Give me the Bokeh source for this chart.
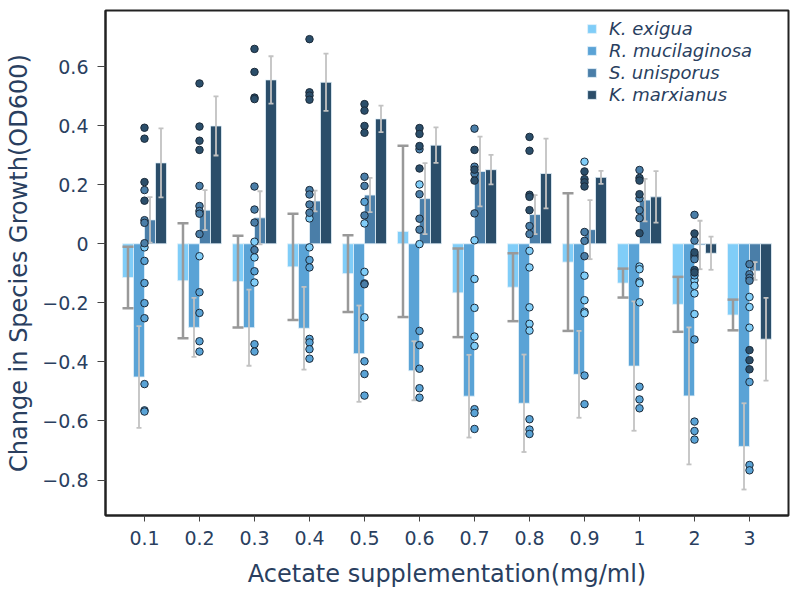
from bokeh.plotting import figure
from bokeh.models import (ColumnDataSource, FactorRange, FixedTicker,
                          CustomJSTickFormatter, Legend, LegendItem)
from bokeh.transform import dodge
from bokeh.embed import file_html
from bokeh.resources import INLINE

# ---------------- data ----------------
cats = ["0.1", "0.2", "0.3", "0.4", "0.5", "0.6", "0.7", "0.8", "0.9", "1", "2", "3"]
species = ["K. exigua", "R. mucilaginosa", "S. unisporus", "K. marxianus"]

ke_mean = [-0.114, -0.125, -0.128, -0.078, -0.101, 0.042, -0.166, -0.147, -0.062, -0.133, -0.205, -0.241]
ke_sd = [0.104, 0.195, 0.155, 0.180, 0.130, 0.290, 0.150, 0.115, 0.233, 0.049, 0.093, 0.052]
rm_mean = [-0.451, -0.283, -0.284, -0.286, -0.372, -0.430, -0.516, -0.540, -0.442, -0.414, -0.515, -0.686]
rm_sd = [0.172, 0.100, 0.129, 0.140, 0.163, 0.100, 0.140, 0.165, 0.147, 0.219, 0.232, 0.146]
su_mean = [0.081, 0.114, 0.088, 0.145, 0.165, 0.153, 0.245, 0.099, 0.048, 0.148, -0.004, -0.092]
su_sd = [0.077, 0.068, 0.090, 0.035, 0.058, 0.120, 0.118, 0.066, 0.100, 0.072, 0.082, 0.030]
km_mean = [0.274, 0.399, 0.555, 0.547, 0.423, 0.334, 0.251, 0.238, 0.225, 0.159, -0.032, -0.323]
km_sd = [0.117, 0.100, 0.080, 0.097, 0.045, 0.060, 0.050, 0.118, 0.022, 0.087, 0.056, 0.140]

# individual replicate points, one list per category
ke_pts = [[-0.012], [-0.042], [0.007, -0.046, -0.131], [0.086, -0.012], [0.069, -0.095, -0.249],
          [0.201, -0.001], [0.012, -0.119, -0.217, -0.314, -0.346], [-0.024, -0.080, -0.215, -0.271, -0.294],
          [0.278, -0.108, -0.191, -0.230, -0.235], [-0.077, -0.086, -0.128, -0.133, -0.198],
          [-0.123, -0.142, -0.168, -0.238], [-0.180, -0.214, -0.284]]
rm_pts = [[-0.058, -0.133, -0.201, -0.252, -0.475, -0.564, -0.568], [-0.164, -0.234, -0.330, -0.365],
          [-0.093, -0.340, -0.365], [-0.055, -0.080, -0.322, -0.334, -0.357, -0.389],
          [0.142, -0.398, -0.441, -0.514], [-0.295, -0.343, -0.423, -0.489, -0.521],
          [-0.560, -0.573, -0.627], [-0.594, -0.629, -0.644], [-0.446, -0.543],
          [-0.484, -0.527, -0.557], [-0.107, -0.324, -0.602, -0.634, -0.663], [-0.468, -0.749, -0.767]]
su_pts = [[0.182, 0.080, 0.071, 0.002], [0.196, 0.128, 0.111, 0.102, 0.033], [0.194, 0.116, 0.072, -0.021],
          [0.182, 0.167, 0.133, 0.105], [0.227, 0.196, 0.096, -0.134, -0.137], [0.320, 0.168, 0.085, 0.048],
          [0.390, 0.261, 0.238, 0.103], [0.060, 0.033], [0.040, 0.010, -0.042], [0.250, 0.154, 0.114, 0.087],
          [0.098, 0.011, -0.037, -0.044, -0.052], [-0.069, -0.103, -0.116, -0.125]]
km_pts = [[0.393, 0.356, 0.209, 0.146], [0.543, 0.397, 0.349, 0.318], [0.660, 0.582, 0.495, 0.490],
          [0.693, 0.513, 0.502, 0.488], [0.473, 0.451, 0.399, 0.376], [0.392, 0.372, 0.331, 0.255],
          [0.318, 0.251, 0.214], [0.362, 0.315, 0.166, 0.159, 0.114],
          [0.245, 0.219, 0.208, 0.194], [0.223, 0.214, 0.168, 0.036], [0.035, -0.029, -0.089, -0.097],
          [-0.360, -0.394, -0.425]]

yticks = [-0.8, -0.6, -0.4, -0.2, 0, 0.2, 0.4, 0.6]

# ---------------- styles ----------------
colors = ["#80cdf8", "#5aa3d6", "#4a7ea8", "#2b4e6a"]
offsets = [-0.3, -0.1, 0.1, 0.3]
err_colors = ["#999999", "#c2c2c2", "#c2c2c2", "#c2c2c2"]
err_widths = [2.5, 1.8, 1.8, 1.8]
cap_sizes = [11, 5, 5, 5]
text_color = "#2a3f5f"
font = "DejaVu Sans"

p = figure(width=792, height=595, output_backend="svg", toolbar_location=None,
           x_range=FactorRange(factors=cats, range_padding=0.209, range_padding_units="absolute"),
           y_range=(-0.92, 0.79),
           min_border_left=105, min_border_right=4, min_border_top=10, min_border_bottom=80)

p.xgrid.visible = False
p.ygrid.visible = False
p.outline_line_color = "#222222"
p.outline_line_width = 2
p.background_fill_color = "white"
p.border_fill_color = "white"

means = [ke_mean, rm_mean, su_mean, km_mean]
sds = [ke_sd, rm_sd, su_sd, km_sd]
pts = [ke_pts, rm_pts, su_pts, km_pts]

bar_renderers = []
for i in range(4):
    lo = [m - s for m, s in zip(means[i], sds[i])]
    hi = [m + s for m, s in zip(means[i], sds[i])]
    src = ColumnDataSource(dict(cat=cats, mean=means[i], lo=lo, hi=hi))
    r = p.vbar(x=dodge("cat", offsets[i], range=p.x_range), top="mean", width=0.2, source=src,
               fill_color=colors[i], line_color="#e4f1fa", line_width=1, line_alpha=0.8)
    bar_renderers.append((r, src))

for i in range(4):
    src = bar_renderers[i][1]
    xd = dodge("cat", offsets[i], range=p.x_range)
    p.segment(x0=xd, y0="lo", x1=xd, y1="hi", source=src,
              line_color=err_colors[i], line_width=err_widths[i])
    for col in ("lo", "hi"):
        p.scatter(x=xd, y=col, marker="dash", size=cap_sizes[i], source=src,
                  line_color=err_colors[i], line_width=err_widths[i])

for i in range(4):
    xs, ys = [], []
    for c, vals in zip(cats, pts[i]):
        for v in vals:
            xs.append(c)
            ys.append(v)
    p.scatter(x=xs, y=ys, size=7.5, fill_color=colors[i], line_color="#1c2b3a", line_width=1)

legend = Legend(items=[LegendItem(label=species[i], renderers=[bar_renderers[i][0]]) for i in range(4)],
                location=(481, 410), orientation="vertical")
legend.border_line_color = None
legend.background_fill_alpha = 0
legend.padding = 0
legend.margin = 0
legend.spacing = 1
legend.glyph_width = 11
legend.glyph_height = 11
legend.label_height = 20
legend.label_standoff = 12
legend.label_text_font = font
legend.label_text_font_style = "italic"
legend.label_text_font_size = "18px"
legend.label_text_color = text_color
p.add_layout(legend)

p.xaxis.axis_label = "Acetate supplementation(mg/ml)"
p.yaxis.axis_label = "Change in Species Growth(OD600)"
for ax in (p.xaxis[0], p.yaxis[0]):
    ax.axis_label_text_font = font
    ax.axis_label_text_font_size = "24px"
    ax.axis_label_text_font_style = "normal"
    ax.axis_label_text_color = text_color
    ax.major_label_text_font = font
    ax.major_label_text_font_size = "19px"
    ax.major_label_text_color = text_color
    ax.axis_line_color = "#222222"
    ax.axis_line_width = 2
    ax.major_tick_line_color = "#444444"
    ax.major_tick_in = 0
    ax.minor_tick_line_color = None

p.xaxis.major_tick_out = 6
p.xaxis.major_label_standoff = 9
p.xaxis.axis_label_standoff = 12
p.yaxis.major_tick_out = 8
p.yaxis.major_label_standoff = 9
p.yaxis.axis_label_standoff = 6
p.yaxis.ticker = FixedTicker(ticks=yticks)
p.yaxis.formatter = CustomJSTickFormatter(code="""
    if (Math.abs(tick) < 1e-9) return "0";
    const s = Math.abs(tick).toFixed(1);
    return tick < 0 ? "\u2212" + s : s;
""")

open("out.html", "w").write(file_html(p, INLINE))
